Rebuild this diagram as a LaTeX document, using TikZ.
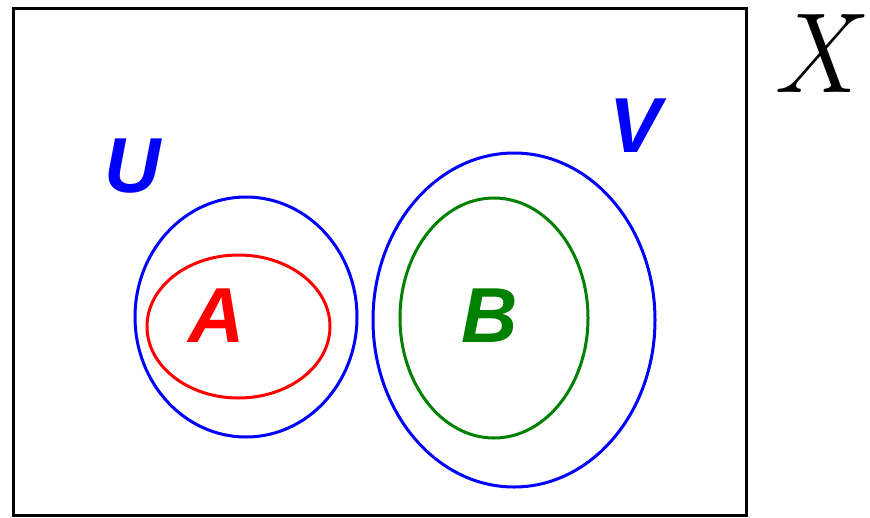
\documentclass[tikz,border=0pt]{standalone}
\usepackage{fontspec}
\setsansfont{Liberation Sans}
\usepackage{tikz}
\usetikzlibrary{positioning}
\definecolor{setBlue}{RGB}{0,0,255}
\definecolor{setRed}{RGB}{255,0,0}
\definecolor{setGreen}{RGB}{0,128,0}
\tikzset{
  setlabel/.style={font=\sffamily\bfseries\itshape\fontsize{78}{78}\selectfont, inner sep=0pt},
  setline/.style={line width=3pt}
}
\begin{document}
\begin{tikzpicture}[x=1pt,y=-1pt]
    \useasboundingbox (0,0) rectangle (870,517);

    % The space X
    \draw[line width=3pt] (13,8) rectangle (746,515);
    \node[inner sep=0pt] (spaceX) at (814,54) {\rmfamily\itshape\fontsize{114}{114}\selectfont X};

    % U and A
    \draw[setline, setBlue] (246,317) ellipse (111 and 120);
    \draw[setline, setRed] (238.5,326.5) ellipse (91.5 and 71.5);
    \node[setlabel, setBlue] (labU) at (133,166) {U};
    \node[setlabel, setRed] (labA) at (217,316) {A};

    % V and B
    \draw[setline, setBlue] (514,320) ellipse (141 and 167);
    \draw[setline, setGreen] (494,318) ellipse (94 and 120);
    \node[setlabel, setBlue] (labV) at (636,126) {V};
    \node[setlabel, setGreen] (labB) at (490,316) {B};
  \end{tikzpicture}
\end{document}
